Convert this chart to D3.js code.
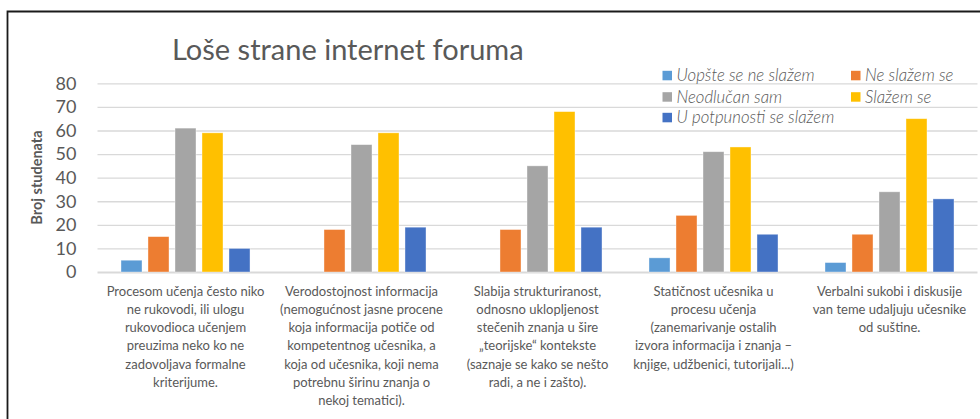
<!DOCTYPE html>
<html>
<head>
<meta charset="utf-8">
<script src="https://cdn.jsdelivr.net/npm/d3@7"></script>
<style>
  html, body { margin: 0; padding: 0; background: #fff; }
  svg { display: block; font-family: Lato, "Open Sans", sans-serif; }
</style>
</head>
<body>
<div id="chart"></div>
<script>
// categories, each split into the lines shown under the axis
const categories = [
    ["Procesom učenja često niko", "ne rukovodi, ili ulogu", "rukovodioca učenjem", "preuzima neko ko ne", "zadovoljava formalne", "kriterijume."],
    ["Verodostojnost informacija", "(nemogućnost jasne procene", "koja informacija potiče od", "kompetentnog učesnika, a", "koja od učesnika, koji nema", "potrebnu širinu znanja o", "nekoj tematici)."],
    ["Slabija strukturiranost,", "odnosno uklopljenost", "stečenih znanja u šire", "„teorijske“ kontekste", "(saznaje se kako se nešto", "radi, a ne i zašto)."],
    ["Statičnost učesnika u", "procesu učenja", "(zanemarivanje ostalih", "izvora informacija i znanja –", "knjige, udžbenici, tutorijali...)"],
    ["Verbalni sukobi i diskusije", "van teme udaljuju učesnike", "od suštine."]
];

const seriesNames = ["Uopšte se ne slažem", "Ne slažem se", "Neodlučan sam", "Slažem se", "U potpunosti se slažem"];
const seriesColors = ["#5B9BD5", "#ED7D31", "#A5A5A5", "#FFC000", "#4472C4"];

const uopsteSeNe = [5, 0, 0, 6, 4];
const neSlazemSe = [15, 18, 18, 24, 16];
const neodlucan = [61, 54, 45, 51, 34];
const slazemSe = [59, 59, 68, 53, 65];
const uPotpunosti = [10, 19, 19, 16, 31];
const seriesValues = [uopsteSeNe, neSlazemSe, neodlucan, slazemSe, uPotpunosti];

const yTicks = [0, 10, 20, 30, 40, 50, 60, 70, 80];

const width = 980, height = 419;
const plot = { left: 97.5, right: 977.5, top: 83.3, bottom: 272 };
const textColor = "#595959";

const svg = d3.select("#chart").append("svg")
    .attr("width", width)
    .attr("height", height);

// chart frame (only top and left edges are inside the picture)
svg.append("path")
    .attr("d", `M7.5,${height + 5}V11.5H${width + 5}`)
    .attr("fill", "none")
    .attr("stroke", "#1a1a1a")
    .attr("stroke-width", 1.8);

const idx = d3.range(categories.length);

const x0 = d3.scaleBand().domain(idx).range([plot.left, plot.right]);
const x1 = d3.scaleBand().domain(d3.range(seriesNames.length))
    .range([x0.bandwidth() / 2 - 67.5, x0.bandwidth() / 2 + 67.5])
    .paddingInner(0.222)
    .paddingOuter(0.111);
const y = d3.scaleLinear().domain([0, 80]).range([plot.bottom, plot.top]);

// gridlines
const grid = svg.append("g")
    .attr("transform", `translate(${plot.left},0)`)
    .call(d3.axisLeft(y).tickValues(yTicks).tickSize(-(plot.right - plot.left)).tickFormat(""));
grid.select(".domain").remove();
grid.selectAll("line").attr("stroke", "#D9D9D9").attr("stroke-width", 1.3);
grid.selectAll(".tick").filter(d => d === 0).select("line").attr("stroke-width", 2);

// y axis labels
const yAxis = svg.append("g")
    .attr("transform", `translate(${plot.left},0)`)
    .call(d3.axisLeft(y).tickValues(yTicks).tickSize(0).tickPadding(21));
yAxis.select(".domain").remove();
yAxis.selectAll("text")
    .attr("fill", textColor)
    .style("font-size", "18px")
    .style("font-family", "Lato, sans-serif");

svg.append("text")
    .attr("transform", `translate(41.5,177.5) rotate(-90)`)
    .attr("text-anchor", "middle")
    .attr("fill", textColor)
    .style("font-size", "14.5px")
    .style("font-weight", "bold")
    .text("Broj studenata");

// bars
const groups = svg.append("g").selectAll("g")
    .data(idx)
    .join("g")
    .attr("transform", i => `translate(${x0(i)},0)`);

groups.selectAll("rect")
    .data(i => seriesValues.map((vals, s) => ({ s, v: vals[i] })).filter(d => d.v > 0))
    .join("rect")
    .attr("x", d => x1(d.s))
    .attr("width", x1.bandwidth())
    .attr("y", d => y(d.v))
    .attr("height", d => y(0) - y(d.v))
    .attr("fill", d => seriesColors[d.s])
    .attr("stroke", "#fff")
    .attr("stroke-opacity", 0.5)
    .attr("stroke-width", 0.75);

// category labels
const labels = svg.append("g").selectAll("text")
    .data(idx)
    .join("text")
    .attr("x", i => x0(i) + x0.bandwidth() / 2)
    .attr("y", 295.5)
    .attr("text-anchor", "middle")
    .attr("fill", textColor)
    .style("font-size", "13px");

labels.selectAll("tspan")
    .data(i => categories[i])
    .join("tspan")
    .attr("x", function () { return this.parentNode.getAttribute("x"); })
    .attr("dy", (d, j) => j === 0 ? 0 : 18.3)
    .text(d => d);

// title
svg.append("text")
    .attr("x", 172)
    .attr("y", 60)
    .attr("fill", textColor)
    .style("font-size", "29px")
    .text("Loše strane internet foruma");

// legend
const legendCols = [662.5, 851];
const legendRows = [75.3, 96.7, 117.3];
const legend = svg.append("g").selectAll("g")
    .data(seriesNames)
    .join("g")
    .attr("transform", (d, i) => `translate(${legendCols[i % 2]},${legendRows[Math.floor(i / 2)]})`);

legend.append("rect")
    .attr("x", 0)
    .attr("y", -4.5)
    .attr("width", 9.5)
    .attr("height", 9.5)
    .attr("fill", (d, i) => seriesColors[i]);

legend.append("text")
    .attr("x", 14)
    .attr("dy", "0.35em")
    .attr("fill", textColor)
    .style("font-size", "16.8px")
    .style("font-style", "italic")
    .style("font-weight", 300)
    .text(d => d);
</script>
</body>
</html>
